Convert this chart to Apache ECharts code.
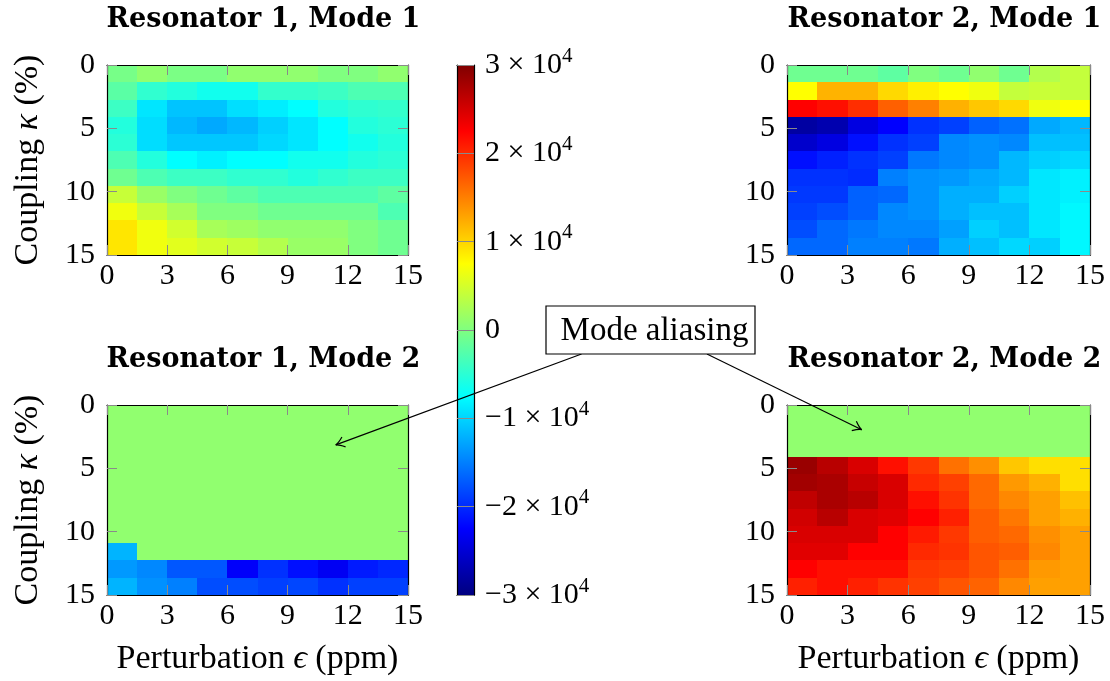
<!DOCTYPE html>
<html>
<head>
<meta charset="utf-8">
<script src="https://cdn.jsdelivr.net/npm/echarts@6/dist/echarts.min.js"></script>
<style>
  html, body { margin: 0; padding: 0; background: #ffffff; }
  #chart { width: 1110px; height: 681px; }
</style>
</head>
<body>
<div id="chart"></div>
<script>
// Bin edges of the sweep: perturbation epsilon (ppm) and coupling kappa (%)
const epsilonEdges = [0, 1.5, 3, 4.5, 6, 7.5, 9, 10.5, 12, 13.5, 15];
const kappaEdges = [0, 1.364, 2.727, 4.091, 5.455, 6.818, 8.182, 9.545, 10.909, 12.273, 13.636, 15];
const epsilonTicks = [0, 3, 6, 9, 12, 15];
const kappaTicks = [0, 5, 10, 15];
const colorbarTicks = [-30000, -20000, -10000, 0, 10000, 20000, 30000];

const panelTitles = ['Resonator 1, Mode 1', 'Resonator 2, Mode 1', 'Resonator 1, Mode 2', 'Resonator 2, Mode 2'];

// Frequency shift per cell; rows follow kappa (top = 0), columns follow epsilon
const res1mode1 = [
  [-500, 1000, -300, -300, 1000, 1000, 1000, 0, 0, 1000],
  [-2200, -4700, -5500, -6500, -6500, -4500, -4500, -4000, -3000, -3000],
  [-4000, -9000, -11000, -11000, -9400, -8500, -7500, -5500, -4800, -4500],
  [-5500, -9500, -11700, -12600, -11700, -10300, -9000, -7500, -5500, -5000],
  [-5000, -9500, -10800, -10800, -10800, -9800, -9000, -7500, -6500, -5500],
  [-3000, -5500, -7500, -8300, -7500, -7500, -6500, -6500, -5500, -5000],
  [-1000, -3000, -4000, -4000, -4700, -4700, -5500, -4700, -4000, -4000],
  [4200, 1500, 0, -1000, -2000, -3000, -3000, -3000, -3000, -2000],
  [6700, 4200, 2300, 0, 0, -1000, -1000, -1000, -1000, -3000],
  [9000, 6700, 4800, 2300, 1800, 1000, 1000, 1000, 0, -1000],
  [9000, 6700, 5800, 4800, 4200, 3000, 1500, 1500, 0, -1000]
];
const res2mode1 = [
  [-1000, -1000, -1000, -2000, 0, -1000, 1000, -1000, 3000, 4000],
  [7500, 12000, 12000, 9750, 8400, 7500, 6600, 4000, 4300, 4000],
  [22500, 21600, 19800, 16900, 15000, 12100, 10800, 9750, 6600, 7500],
  [-28000, -27200, -24300, -22500, -19600, -18750, -16800, -15900, -12600, -11700],
  [-25500, -24300, -21600, -19600, -18750, -14500, -14000, -14500, -11250, -11250],
  [-21600, -20600, -19600, -18750, -15450, -14500, -14000, -11700, -10300, -9800],
  [-19600, -19600, -20000, -15000, -14000, -13500, -12600, -11700, -8900, -8300],
  [-19200, -19200, -16800, -16400, -14000, -12200, -12200, -10300, -8900, -8300],
  [-18750, -18000, -16800, -14500, -14000, -12200, -11250, -11250, -8900, -7900],
  [-18000, -16400, -15450, -14500, -14500, -13100, -10300, -11250, -8900, -7900],
  [-16400, -16400, -15000, -15000, -15450, -12200, -11250, -9800, -10300, -7900]
];
const res1mode2 = [
  [1000, 1000, 1000, 1000, 1000, 1000, 1000, 1000, 1000, 1000],
  [1000, 1000, 1000, 1000, 1000, 1000, 1000, 1000, 1000, 1000],
  [1000, 1000, 1000, 1000, 1000, 1000, 1000, 1000, 1000, 1000],
  [1000, 1000, 1000, 1000, 1000, 1000, 1000, 1000, 1000, 1000],
  [1000, 1000, 1000, 1000, 1000, 1000, 1000, 1000, 1000, 1000],
  [1000, 1000, 1000, 1000, 1000, 1000, 1000, 1000, 1000, 1000],
  [1000, 1000, 1000, 1000, 1000, 1000, 1000, 1000, 1000, 1000],
  [1000, 1000, 1000, 1000, 1000, 1000, 1000, 1000, 1000, 1000],
  [-11900, 1000, 1000, 1000, 1000, 1000, 1000, 1000, 1000, 1000],
  [-13500, -14500, -17400, -17400, -22800, -19600, -21600, -23200, -21000, -20200],
  [-11900, -14000, -15000, -18000, -18000, -18750, -18400, -19600, -18750, -18750]
];
const res2mode2 = [
  [1000, 1000, 1000, 1000, 1000, 1000, 1000, 1000, 1000, 1000],
  [1000, 1000, 1000, 1000, 1000, 1000, 1000, 1000, 1000, 1000],
  [1000, 1000, 1000, 1000, 1000, 1000, 1000, 1000, 1000, 1000],
  [28500, 26700, 24750, 21600, 19200, 15900, 14100, 10800, 9400, 9400],
  [28000, 27500, 25800, 24750, 20100, 18750, 16350, 13500, 12100, 9400],
  [26250, 27500, 26700, 24750, 21600, 19500, 16350, 14500, 13100, 11250],
  [25200, 26700, 24750, 24300, 22500, 20600, 17000, 15450, 13100, 12100],
  [24750, 24750, 24750, 22500, 21000, 19200, 17000, 16350, 14100, 13100],
  [24300, 24300, 22500, 22500, 20100, 19500, 17500, 17000, 14500, 13100],
  [22500, 21600, 21600, 21600, 19200, 18750, 17500, 15900, 13500, 13100],
  [20600, 21600, 20600, 19500, 18750, 17500, 16700, 14500, 13100, 13100]
];
const panels = [res1mode1, res2mode1, res1mode2, res2mode2];

// Annotation: text and the (epsilon, kappa) points its arrows point at
const annotationText = 'Mode aliasing';
const aliasTargets = [
  { panel: 2, point: [11.4, 3.15] },
  { panel: 3, point: [3.7, 1.95] }
];

const SERIF = '"Liberation Serif", "DejaVu Serif", serif';
const jetColors = ['#000080', '#0000ff', '#0080ff', '#00ffff', '#80ff80', '#ffff00', '#ff8000', '#ff0000', '#800000'];

const grids = [
  { left: 107, top: 65, width: 301, height: 190 },
  { left: 787, top: 65, width: 303, height: 190 },
  { left: 107, top: 405, width: 301, height: 190 },
  { left: 787, top: 405, width: 303, height: 190 },
  { left: 457, top: 65, width: 17, height: 530 }
];

const tickStyle = { show: true, inside: true, length: 10, lineStyle: { color: '#8a8a8a', width: 1 } };
const frameLine = { show: true, onZero: false, lineStyle: { color: '#000', width: 1.2 } };
const tickLabel = { fontFamily: SERIF, fontSize: 30, color: '#000' };
const nameStyle = {
  fontFamily: SERIF, fontSize: 34, color: '#000',
  rich: { i: { fontFamily: SERIF, fontSize: 34, fontStyle: 'italic', color: '#000' } }
};

const xAxes = [], yAxes = [], series = [], titles = [];

panels.forEach((rows, i) => {
  const showXName = i >= 2;
  const showYName = i % 2 === 0;
  xAxes.push({
    gridIndex: i, type: 'value', position: 'bottom', min: 0, max: 15, interval: 3, z: 5,
    axisLine: frameLine, axisTick: tickStyle, splitLine: { show: false },
    axisLabel: Object.assign({ margin: 6 }, tickLabel),
    name: showXName ? 'Perturbation {i|ϵ} (ppm)' : '',
    nameLocation: 'middle', nameGap: 47, nameTextStyle: nameStyle
  });
  xAxes.push({
    gridIndex: i, type: 'value', position: 'top', min: 0, max: 15, interval: 3, z: 5,
    axisLine: frameLine, axisTick: tickStyle, axisLabel: { show: false }, splitLine: { show: false }
  });
  yAxes.push({
    gridIndex: i, type: 'value', position: 'left', inverse: true, min: 0, max: 15, interval: 5, z: 5,
    axisLine: frameLine, axisTick: tickStyle, splitLine: { show: false },
    axisLabel: Object.assign({ margin: 12 }, tickLabel),
    name: showYName ? 'Coupling {i|κ} (%)' : '',
    nameLocation: 'middle', nameGap: 62, nameRotate: 90, nameTextStyle: nameStyle
  });
  yAxes.push({
    gridIndex: i, type: 'value', position: 'right', inverse: true, min: 0, max: 15, interval: 5, z: 5,
    axisLine: frameLine, axisTick: tickStyle, axisLabel: { show: false }, splitLine: { show: false }
  });

  const data = [];
  rows.forEach((row, r) => row.forEach((v, c) => data.push([c, r, v])));
  series.push({
    type: 'custom', xAxisIndex: 2 * i, yAxisIndex: 2 * i, z: 1, silent: true,
    encode: { x: 0, y: 1 },
    data: data,
    renderItem: function (params, api) {
      const c = api.value(0), r = api.value(1);
      const p0 = api.coord([epsilonEdges[c], kappaEdges[r]]);
      const p1 = api.coord([epsilonEdges[c + 1], kappaEdges[r + 1]]);
      const x0 = Math.round(Math.min(p0[0], p1[0])), x1 = Math.round(Math.max(p0[0], p1[0]));
      const y0 = Math.round(Math.min(p0[1], p1[1])), y1 = Math.round(Math.max(p0[1], p1[1]));
      return {
        type: 'rect',
        shape: { x: x0, y: y0, width: x1 - x0, height: y1 - y0 },
        style: { fill: api.visual('color'), stroke: null }
      };
    }
  });

  const g = grids[i];
  titles.push({
    text: panelTitles[i],
    left: g.left + g.width / 2 + 1, top: i >= 2 ? 341 : 1, textAlign: 'center',
    textStyle: { fontFamily: '"DejaVu Serif", serif', fontWeight: 'bold', fontSize: 27, color: '#000' }
  });
});

// Colorbar: gradient bar drawn on its own value axis
const supLabel = v => {
  if (v === 0) return '{n|0}';
  const sign = v < 0 ? '−' : '';
  return '{n|' + sign + Math.abs(v / 10000) + ' × 10}{s|4}';
};
xAxes.push({ gridIndex: 4, type: 'value', min: 0, max: 1, show: false });
yAxes.push({
  gridIndex: 4, type: 'value', position: 'right',
  min: colorbarTicks[0], max: colorbarTicks[colorbarTicks.length - 1], interval: 10000, z: 5,
  axisLine: frameLine,
  axisTick: { show: true, inside: true, length: 17, lineStyle: { color: '#8a8a8a', width: 1 } },
  splitLine: { show: false },
  axisLabel: {
    margin: 11, formatter: supLabel,
    rich: {
      n: { fontFamily: SERIF, fontSize: 30, color: '#000' },
      s: { fontFamily: SERIF, fontSize: 21, color: '#000', padding: [0, 0, 18, 0] }
    }
  }
});
yAxes.push({
  gridIndex: 4, type: 'value', position: 'left', min: -30000, max: 30000, z: 5,
  axisLine: frameLine, axisTick: { show: false }, axisLabel: { show: false }, splitLine: { show: false }
});
xAxes.push({ gridIndex: 4, type: 'value', position: 'top', min: 0, max: 1, axisLine: frameLine, axisTick: { show: false }, axisLabel: { show: false }, splitLine: { show: false }, z: 5 });
xAxes.push({ gridIndex: 4, type: 'value', position: 'bottom', min: 0, max: 1, axisLine: frameLine, axisTick: { show: false }, axisLabel: { show: false }, splitLine: { show: false }, z: 5 });

series.push({
  type: 'custom', xAxisIndex: 8, yAxisIndex: 8, z: 1, silent: true,
  data: [[0, colorbarTicks[0], colorbarTicks[colorbarTicks.length - 1]]],
  encode: { x: 0, y: [1, 2] },
  renderItem: function (params, api) {
    const top = api.coord([0, api.value(2)]);
    const bottom = api.coord([1, api.value(1)]);
    return {
      type: 'rect',
      shape: { x: top[0], y: top[1], width: bottom[0] - top[0], height: bottom[1] - top[1] },
      style: {
        fill: new echarts.graphic.LinearGradient(0, 0, 0, 1, [
          { offset: 0, color: '#800000' }, { offset: 0.125, color: '#ff0000' },
          { offset: 0.375, color: '#ffff00' }, { offset: 0.625, color: '#00ffff' },
          { offset: 0.875, color: '#0000ff' }, { offset: 1, color: '#000080' }
        ])
      }
    };
  }
});

const chart = echarts.init(document.getElementById('chart'), null, { renderer: 'canvas' });
chart.setOption({
  animation: false,
  backgroundColor: '#ffffff',
  title: titles,
  grid: grids,
  xAxis: xAxes,
  yAxis: yAxes,
  visualMap: {
    type: 'continuous', show: false, seriesIndex: [0, 1, 2, 3], dimension: 2,
    min: -30000, max: 30000, inRange: { color: jetColors }
  },
  series: series
});

// Annotation box and arrows pointing into the aliased regions
const box = { x: 546, y: 306, width: 209, height: 48 };
const arrowStarts = [[box.x + 0.17 * box.width, box.y + box.height], [box.x + 0.77 * box.width, box.y + box.height]];
const graphics = [];
aliasTargets.forEach((t, k) => {
  const tip = chart.convertToPixel({ gridIndex: t.panel }, t.point);
  const s = arrowStarts[k];
  const ang = Math.atan2(tip[1] - s[1], tip[0] - s[0]);
  const L = 10, spread = 0.55;
  const b1 = [tip[0] - L * Math.cos(ang - spread), tip[1] - L * Math.sin(ang - spread)];
  const b2 = [tip[0] - L * Math.cos(ang + spread), tip[1] - L * Math.sin(ang + spread)];
  graphics.push({
    type: 'line', z: 20, shape: { x1: s[0], y1: s[1], x2: tip[0], y2: tip[1] },
    style: { stroke: '#000', lineWidth: 1.2 }
  });
  graphics.push({
    type: 'bezierCurve', z: 20,
    shape: { x1: b1[0], y1: b1[1], x2: tip[0], y2: tip[1], cpx1: tip[0] - 3 * Math.cos(ang - 0.2), cpy1: tip[1] - 3 * Math.sin(ang - 0.2) },
    style: { stroke: '#000', lineWidth: 1.2, fill: null }
  });
  graphics.push({
    type: 'bezierCurve', z: 20,
    shape: { x1: b2[0], y1: b2[1], x2: tip[0], y2: tip[1], cpx1: tip[0] - 3 * Math.cos(ang + 0.2), cpy1: tip[1] - 3 * Math.sin(ang + 0.2) },
    style: { stroke: '#000', lineWidth: 1.2, fill: null }
  });
});
graphics.push({
  type: 'rect', z: 30, shape: { x: box.x, y: box.y, width: box.width, height: box.height },
  style: { fill: '#fff', stroke: '#000', lineWidth: 1.2 }
});
graphics.push({
  type: 'text', z: 31, x: box.x + box.width / 2 + 4, y: box.y + box.height / 2 + 1,
  style: { text: annotationText, fontFamily: SERIF, fontSize: 33, fill: '#000', align: 'center', verticalAlign: 'middle' }
});
chart.setOption({ graphic: graphics });
</script>
</body>
</html>
